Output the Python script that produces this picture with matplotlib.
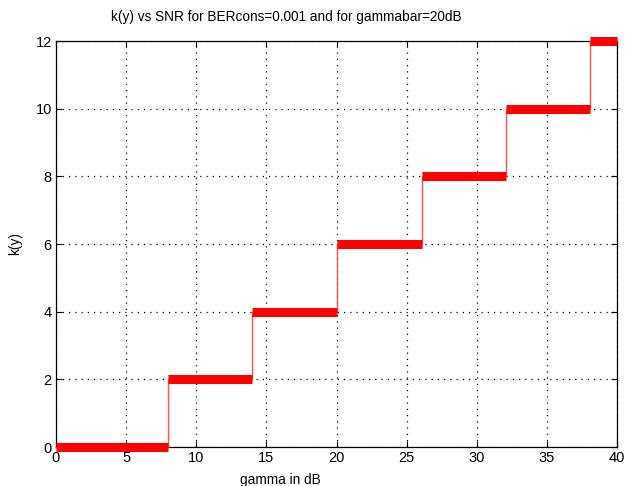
import matplotlib
matplotlib.use('Agg')
import matplotlib.pyplot as plt

# step edges (gamma in dB) and k(y) levels
edges = [0, 8, 14, 20, 26.1, 32.1, 38.1, 40]
levels = [0, 2, 4, 6, 8, 10, 12]

plt.rcParams['font.family'] = ['Liberation Sans', 'DejaVu Sans']
fig = plt.figure(figsize=(6.25, 4.86), dpi=100)
ax = fig.add_axes([0.0896, 0.080, 0.8976, 0.8356])

# thin connecting line
xs = []
ys = []
for i in range(len(levels)):
    xs += [edges[i], edges[i + 1]]
    ys += [levels[i], levels[i]]
ax.plot(xs, ys, color='#ff5050', lw=1.0, clip_on=False, zorder=3)
# thick horizontal pieces
ax.hlines(levels, edges[:-1], edges[1:], color='red', lw=6.5, clip_on=False, zorder=4)

ax.set_xlim(0, 40)
ax.set_ylim(0, 12)
ax.set_xticks(range(0, 41, 5))
ax.set_yticks(range(0, 13, 2))
ax.grid(True, color='black', linestyle=(0, (1, 4)), linewidth=0.9)
ax.tick_params(direction='in', top=True, right=True, length=4, labelsize=10.5, width=0.8, pad=3)
for s in ax.spines.values():
    s.set_linewidth(0.9)
# labels placed like the original figure (slightly off axes centre)
fig.text(0.4576, 0.965, 'k(y) vs SNR for BERcons=0.001 and for gammabar=20dB',
         fontsize=9.8, ha='center', va='center')
fig.text(0.448, 0.013, 'gamma in dB', fontsize=9.8, ha='center', va='center')
fig.text(0.024, 0.50, 'k(y)', fontsize=9.8, ha='center', va='center', rotation=90)
fig.savefig('out.png', dpi=100)
